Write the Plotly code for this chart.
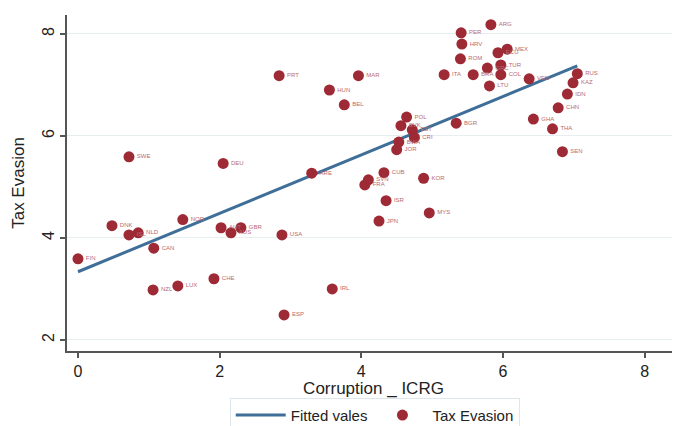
import numpy as np
import plotly.graph_objects as go

countries = ["FIN", "DNK", "SWE", "ISL", "NLD", "CAN", "NZL", "LUX", "NOR", "CHE",
             "AUT", "AUS", "GBR", "DEU", "PRT", "USA", "ESP", "ARE", "HUN", "IRL",
             "BEL", "MAR", "FRA", "SVN", "CUB", "ISR", "JPN", "JOR", "BWA", "SVK",
             "POL", "EST", "CRI", "KOR", "MYS", "ITA", "BGR", "ROM", "HRV", "PER",
             "BRA", "GRC", "LTU", "ARG", "ECU", "MEX", "TUR", "COL", "VEN", "GHA",
             "THA", "CHN", "SEN", "IDN", "KAZ", "RUS"]
corruption = [0.00, 0.48, 0.72, 0.72, 0.85, 1.07, 1.06, 1.41, 1.48, 1.92,
              2.02, 2.16, 2.30, 2.05, 2.84, 2.88, 2.91, 3.30, 3.55, 3.59,
              3.76, 3.96, 4.05, 4.10, 4.32, 4.35, 4.25, 4.50, 4.53, 4.56,
              4.64, 4.72, 4.75, 4.88, 4.96, 5.17, 5.34, 5.40, 5.42, 5.41,
              5.58, 5.78, 5.81, 5.83, 5.93, 6.06, 5.97, 5.97, 6.37, 6.43,
              6.70, 6.78, 6.84, 6.91, 6.99, 7.05]
tax_evasion = [3.59, 4.24, 5.59, 4.06, 4.10, 3.80, 2.98, 3.06, 4.36, 3.20,
               4.20, 4.10, 4.20, 5.46, 7.18, 4.06, 2.49, 5.27, 6.90, 3.00,
               6.61, 7.18, 5.04, 5.14, 5.28, 4.73, 4.33, 5.73, 5.88, 6.20,
               6.37, 6.12, 5.97, 5.17, 4.49, 7.20, 6.25, 7.51, 7.80, 8.02,
               7.20, 7.33, 6.98, 8.18, 7.63, 7.70, 7.39, 7.20, 7.12, 6.33,
               6.14, 6.55, 5.69, 6.82, 7.04, 7.22]
x_ticks = [0, 2, 4, 6, 8]
y_ticks = [2, 4, 6, 8]

xs = np.array(corruption)
ys = np.array(tax_evasion)
slope, intercept = np.polyfit(xs, ys, 1)
fit_x = np.array([xs.min(), xs.max()])
fit_y = intercept + slope * fit_x

font_family = "Liberation Sans Narrow, Liberation Sans, Arial"

fig = go.Figure()
fig.add_trace(go.Scatter(
    x=fit_x, y=fit_y, mode="lines", name="Fitted vales",
    line=dict(color="#3f6f98", width=3),
))
fig.add_trace(go.Scatter(
    x=corruption, y=tax_evasion, mode="markers+text", name="Tax Evasion",
    text=countries, textposition="middle right",
    textfont=dict(size=6, color="#b86a6e", family=font_family),
    marker=dict(color="#9e2a35", size=11, line=dict(width=0)),
))

fig.update_layout(
    width=680, height=426,
    margin=dict(l=59, r=8, t=7, b=83),
    paper_bgcolor="white", plot_bgcolor="white",
    font=dict(family=font_family, size=16, color="#222"),
    showlegend=True,
    legend=dict(
        orientation="h", x=0.502, xanchor="center",
        yref="container", y=0.085, yanchor="top",
        bordercolor="#dde6ea", borderwidth=1, font=dict(size=15),
        itemwidth=50,
    ),
    xaxis=dict(
        range=[-0.155, 8.5], tickvals=x_ticks, showgrid=False, zeroline=False,
        showline=True, linecolor="#555", linewidth=2, automargin=False,
        ticks="outside", ticklen=5, tickwidth=2, tickcolor="#555",
        title=dict(text="Corruption _ ICRG", standoff=0, font=dict(size=17)),
    ),
    yaxis=dict(
        range=[1.784, 8.37], tickvals=y_ticks, tickangle=-90, automargin=False,
        showgrid=True, gridcolor="#e6eef0", gridwidth=1, zeroline=False,
        showline=True, linecolor="#555", linewidth=2,
        ticks="outside", ticklen=5, tickwidth=2, tickcolor="#555",
        title=dict(text="Tax Evasion", standoff=11, font=dict(size=17)),
    ),
)

fig.write_html("out.html")
